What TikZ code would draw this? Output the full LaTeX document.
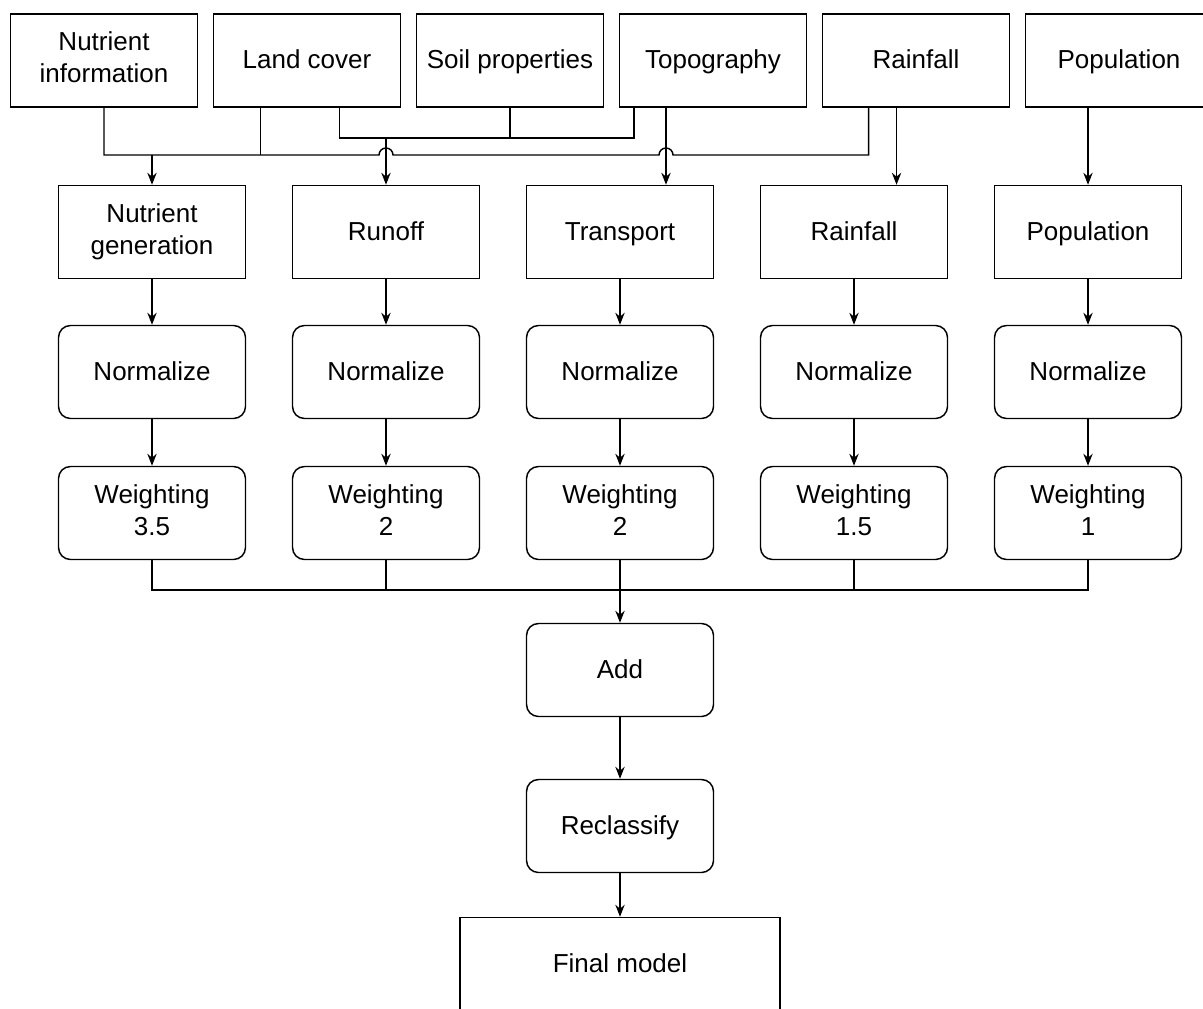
\documentclass[tikz,border=0pt]{standalone}
\usepackage{fontspec}
\setmainfont{Liberation Sans}
\usetikzlibrary{arrows.meta,calc}

\begin{document}
\begin{tikzpicture}[x=0.75pt, y=-0.75pt, line width=1.1pt,
  font=\fontsize{19.5}{24}\selectfont,
  box/.style = {draw, minimum width=140.25pt, minimum height=69.75pt, align=center, inner sep=2pt,
    execute at begin node=\rule{0pt}{17.5pt}, execute at end node=\rule[-5pt]{0pt}{5pt}},
  rbox/.style = {box, rounded corners=9pt},
  arr/.style = {-{Stealth[length=9pt,width=7pt]}}]
\useasboundingbox (0,0) rectangle (1203,1009);
% input layers
\node[box] (nutinfo) at (104,60.5) {Nutrient\\information};
\node[box] (landcover) [right of=nutinfo, node distance=152.25pt] {Land cover};
\node[box] (soil) [right of=landcover, node distance=152.25pt] {Soil properties};
\node[box] (topo) [right of=soil, node distance=152.25pt] {Topography};
\node[box] (rainin) [right of=topo, node distance=152.25pt] {Rainfall};
\node[box] (popin) [right of=rainin, node distance=152.25pt] {Population};
% factors
\node[box] (gen) at (152,232) {Nutrient\\generation};
\node[box] (runoff) [right of=gen, node distance=175.5pt] {Runoff};
\node[box] (transport) [right of=runoff, node distance=175.5pt] {Transport};
\node[box] (rain) [right of=transport, node distance=175.5pt] {Rainfall};
\node[box] (pop) [right of=rain, node distance=175.5pt] {Population};
\foreach \col/\wt [count=\i] in {gen/3.5, runoff/2, transport/2, rain/1.5, pop/1} {
  \node[rbox] (norm\i) [below of=\col, node distance=105pt] {Normalize};
  \node[rbox] (wt\i) [below of=norm\i, node distance=105.75pt] {Weighting\\\wt};
  \draw[arr] (\col) -- (norm\i);
  \draw[arr] (norm\i) -- (wt\i);
}
\node[rbox] (add) [below of=wt3, node distance=117.75pt] {Add};
\node[rbox] (recl) [below of=add, node distance=117pt] {Reclassify};
\node[box, minimum width=240pt] (final) [below of=recl, node distance=103.5pt] {Final model};
% top connectors
\coordinate (busN) at (0,155);
\coordinate (busR) at (0,138);
\coordinate (lcA) at ([xshift=-34.9pt]landcover.south);
\coordinate (lcB) at ([xshift=24.4pt]landcover.south);
\coordinate (tpA) at ([xshift=-59.25pt]topo.south);
\coordinate (tpB) at ([xshift=-35.25pt]topo.south);
\coordinate (rfA) at ([xshift=-35.6pt]rainin.south);
\coordinate (rfB) at ([xshift=-14.6pt]rainin.south);
\draw (nutinfo.south) |- ($(runoff.north |- busN)+(-7,0)$)
  arc[start angle=180, end angle=360, radius=7] -- ($(tpB |- busN)+(-7,0)$)
  arc[start angle=180, end angle=360, radius=7] -| (rfA);
\draw (lcA) -- (lcA |- busN);
\draw[arr] (gen.north |- busN) -- (gen.north);
\draw (lcB) |- (tpA |- busR) -- (tpA);
\draw (soil.south) -- (soil.south |- busR);
\draw[arr] (runoff.north |- busR) -- (runoff.north);
\draw[arr] (tpB) -- (tpB |- transport.north);
\draw[arr] (rfB) -- (rfB |- rain.north);
\draw[arr] (popin.south -| pop.north) -- (pop.north);
% combine
\coordinate (bus) at (620,590);
\draw (wt1.south) |- (bus) -| (wt5.south);
\foreach \i in {2,4} \draw (wt\i.south) -- (wt\i.south |- bus);
\draw[arr] (wt3) -- (add);
\draw[arr] (add) -- (recl);
\draw[arr] (recl) -- (final);
\end{tikzpicture}
\end{document}
